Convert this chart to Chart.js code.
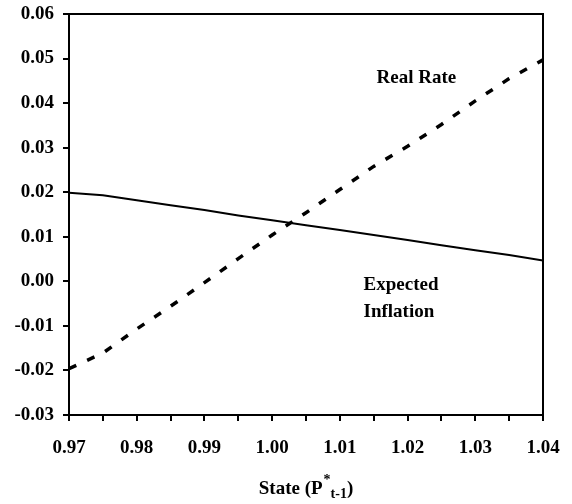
<!DOCTYPE html>
<html>
<head>
<meta charset="utf-8">
<script src="https://cdn.jsdelivr.net/npm/chart.js@4/dist/chart.umd.min.js"></script>
<style>
  html, body { margin: 0; padding: 0; background: #fff; }
  #wrap { width: 572px; height: 504px; }
</style>
</head>
<body>
<div id="wrap"><canvas id="c" width="572" height="504"></canvas></div>
<script>
// State grid P*_{t-1}
const states = [0.970, 0.975, 0.980, 0.985, 0.990, 0.995, 1.000, 1.005,
                1.010, 1.015, 1.020, 1.025, 1.030, 1.035, 1.040];

// Real rate (dashed)
const realRate = [-0.0196, -0.0161, -0.0107, -0.0056, -0.0003, 0.0051, 0.0104, 0.0154,
                  0.0206, 0.0258, 0.0303, 0.0352, 0.0405, 0.0455, 0.0497];

// Expected inflation (solid)
const expectedInflation = [0.0199, 0.0193, 0.0182, 0.0171, 0.0160, 0.0148, 0.0137, 0.0126,
                           0.0115, 0.0104, 0.0093, 0.0081, 0.0070, 0.0059, 0.0047];

// Axis ticks
const xTickValues = [0.970, 0.975, 0.980, 0.985, 0.990, 0.995, 1.000, 1.005,
                     1.010, 1.015, 1.020, 1.025, 1.030, 1.035, 1.040];
const xTickLabels = ['0.97', '', '0.98', '', '0.99', '', '1.00', '',
                     '1.01', '', '1.02', '', '1.03', '', '1.04'];
const yTickValues = [-0.03, -0.02, -0.01, 0.00, 0.01, 0.02, 0.03, 0.04, 0.05, 0.06];
const yTickLabels = ['-0.03', '-0.02', '-0.01', '0.00', '0.01', '0.02', '0.03', '0.04', '0.05', '0.06'];

// In-plot series labels, anchored in data coordinates
const seriesNotes = [
  { lines: ['Real Rate'], x: 1.0213, y: 0.0446, align: 'center' },
  { lines: ['Expected', 'Inflation'], x: 1.0135, y: -0.0020, align: 'left' }
];

const FONT = '"Liberation Serif", "Times New Roman", serif';

const frame = {
  id: 'frame',
  afterDatasetsDraw(chart) {
    const { ctx, chartArea: a } = chart;
    ctx.save();
    ctx.strokeStyle = '#000';
    ctx.lineWidth = 2;
    ctx.strokeRect(a.left, a.top, a.right - a.left, a.bottom - a.top);
    ctx.restore();
  }
};

const notes = {
  id: 'notes',
  afterDatasetsDraw(chart) {
    const { ctx, scales } = chart;
    ctx.save();
    ctx.fillStyle = '#000';
    ctx.font = 'bold 19px ' + FONT;
    ctx.textBaseline = 'alphabetic';
    seriesNotes.forEach(n => {
      const px = scales.x.getPixelForValue(n.x);
      const py = scales.y.getPixelForValue(n.y);
      ctx.textAlign = n.align;
      n.lines.forEach((t, i) => ctx.fillText(t, px, py + i * 27));
    });
    ctx.restore();
  }
};

// x-axis title with superscript and subscript: State (P*_{t-1})
const xTitle = {
  id: 'xTitle',
  afterDraw(chart) {
    const { ctx, chartArea: a } = chart;
    const big = 'bold 19px ' + FONT;
    const small = 'bold 14px ' + FONT;
    const parts = [
      { t: 'State (P', f: big, dy: 0 },
      { t: '*', f: small, dy: -10 },
      { t: 't-1', f: small, dy: 4 },
      { t: ')', f: big, dy: 0 }
    ];
    ctx.save();
    ctx.fillStyle = '#000';
    ctx.textBaseline = 'alphabetic';
    ctx.textAlign = 'left';
    parts.forEach(p => { ctx.font = p.f; p.w = ctx.measureText(p.t).width; });
    const total = parts[0].w + parts[1].w + 1 + parts[2].w + parts[3].w;
    let x = (a.left + a.right) / 2 - total / 2;
    const base = 494;
    ctx.font = parts[0].f; ctx.fillText(parts[0].t, x, base); x += parts[0].w;
    ctx.font = parts[1].f; ctx.fillText(parts[1].t, x + 1, base + parts[1].dy);
    x += parts[1].w + 1;
    ctx.font = parts[2].f; ctx.fillText(parts[2].t, x, base + parts[2].dy); x += parts[2].w;
    ctx.font = parts[3].f; ctx.fillText(parts[3].t, x, base);
    ctx.restore();
  }
};

new Chart(document.getElementById('c'), {
  type: 'line',
  data: {
    datasets: [
      {
        label: 'Expected Inflation',
        data: states.map((s, i) => ({ x: s, y: expectedInflation[i] })),
        borderColor: '#000',
        borderWidth: 2,
        pointRadius: 0,
        tension: 0,
        fill: false
      },
      {
        label: 'Real Rate',
        data: states.map((s, i) => ({ x: s, y: realRate[i] })),
        borderColor: '#000',
        borderWidth: 3.5,
        borderDash: [8, 12],
        pointRadius: 0,
        tension: 0,
        fill: false
      }
    ]
  },
  options: {
    responsive: false,
    animation: false,
    layout: { padding: { left: 0, right: 29, top: 14, bottom: 0 } },
    plugins: { legend: { display: false }, tooltip: { enabled: false } },
    scales: {
      x: {
        type: 'linear',
        min: 0.97,
        max: 1.04,
        afterBuildTicks(scale) { scale.ticks = xTickValues.map(v => ({ value: v })); },
        afterFit(scale) {
          scale.height = 89;
          scale.paddingLeft = 0;
          scale.paddingRight = 0;
        },
        ticks: {
          autoSkip: false,
          maxRotation: 0,
          color: '#000',
          padding: 16,
          font: { family: FONT, size: 19, weight: 'bold' },
          callback: (v, i) => xTickLabels[i]
        },
        grid: { drawOnChartArea: false, tickLength: 6, color: '#000', lineWidth: 2 },
        border: { display: true, color: '#000', width: 2 }
      },
      y: {
        type: 'linear',
        min: -0.03,
        max: 0.06,
        afterBuildTicks(scale) { scale.ticks = yTickValues.map(v => ({ value: v })); },
        afterFit(scale) {
          scale.width = 69;
          scale.paddingTop = 0;
          scale.paddingBottom = 0;
        },
        ticks: {
          autoSkip: false,
          color: '#000',
          padding: 9,
          font: { family: FONT, size: 19, weight: 'bold' },
          callback: (v, i) => yTickLabels[i]
        },
        grid: { drawOnChartArea: false, tickLength: 6, color: '#000', lineWidth: 2 },
        border: { display: true, color: '#000', width: 2 }
      }
    }
  },
  plugins: [frame, notes, xTitle]
});
</script>
</body>
</html>
